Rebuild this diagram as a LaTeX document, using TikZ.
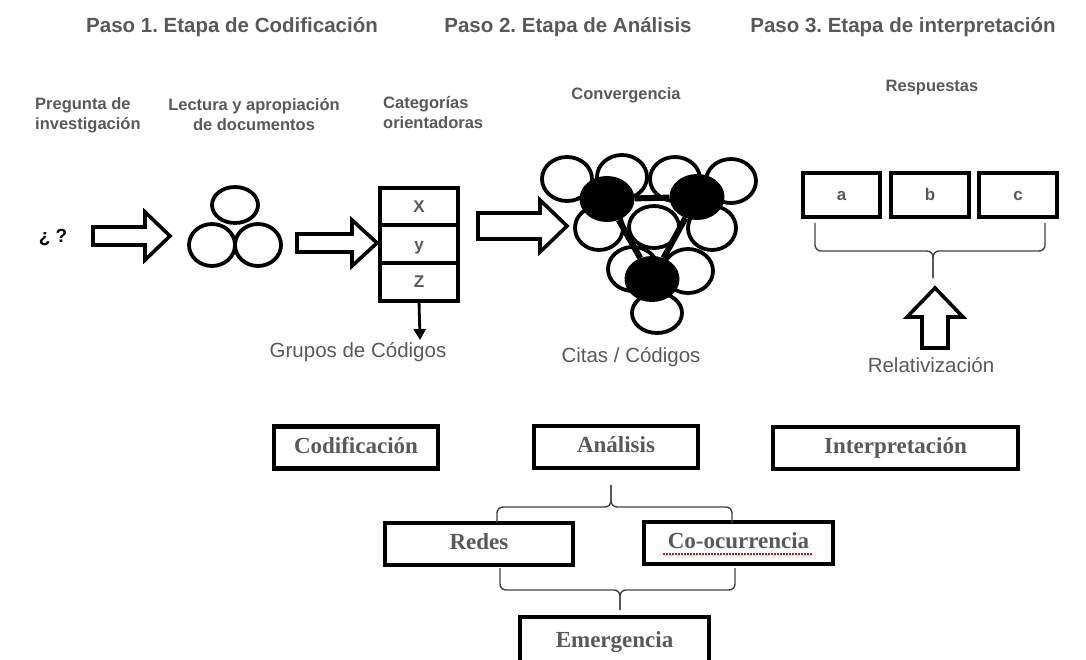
\documentclass[tikz,border=0pt]{standalone}
\usepackage{fontspec}
\setmainfont{Liberation Serif}
\setsansfont{Liberation Sans}
\usepackage{tikz}
\usetikzlibrary{positioning, arrows.meta, shapes.geometric}

\definecolor{labelgray}{HTML}{595959}
\definecolor{bracegray}{HTML}{404040}

\tikzset{
  title/.style={font=\sffamily\bfseries\fontsize{20.5}{24}\selectfont, text=labelgray},
  sublabel/.style={font=\sffamily\bfseries\fontsize{16.5}{20}\selectfont, text=labelgray, inner sep=0pt},
  caption/.style={font=\sffamily\fontsize{20.5}{24}\selectfont, text=labelgray, inner sep=0pt},
  cell/.style={draw, line width=4pt, outer sep=0pt, minimum width=78pt, minimum height=37.5pt, inner sep=0pt, text height=12pt, text depth=0pt, font=\sffamily\bfseries\fontsize{17}{20}\selectfont, text=labelgray},
  answer/.style={draw, line width=4.5pt, minimum width=78pt, minimum height=44pt, inner sep=0pt, text height=12pt, text depth=0pt, font=\sffamily\bfseries\fontsize{17}{20}\selectfont, text=labelgray},
  stagebox/.style={draw, line width=4.5pt, minimum height=42pt, inner sep=0pt, text height=15pt, text depth=4pt, font=\rmfamily\bfseries\fontsize{23}{26}\selectfont, text=labelgray},
  hub/.style={ellipse, fill=black, minimum width=55pt, minimum height=46pt, inner sep=0pt},
  bracket/.style={draw=bracegray, line width=1.4pt, rounded corners=6pt},
  hollow/.style={draw, line width=3.6pt, fill=white},
  ring/.style={line width=3.8pt},
}

\begin{document}
\frenchspacing
\begin{tikzpicture}[x=1pt, y=-1pt]

\useasboundingbox (0,0) rectangle (1086,660);

% titles
\node[title] (paso1) at (232,27) {Paso 1. Etapa de Codificación};
\node[title] (paso2) at (568,27) {Paso 2. Etapa de Análisis};
\node[title] (paso3) at (903,27) {Paso 3. Etapa de interpretación};

\node[sublabel, anchor=west, align=left] (preg) at (35,115) {Pregunta de\\investigación};
\node[sublabel, align=center] (lect) at (254,115) {Lectura y apropiación\\de documentos};
\node[sublabel, anchor=west, align=left] (cats) at (383,112.5) {Categorías\\orientadoras};
\node[sublabel] (conv) at (626,95) {Convergencia};
\node[sublabel] (resp) at (932,88) {Respuestas};

% paso 1
\node[sublabel, text=black, font=\sffamily\bfseries\fontsize{19}{22}\selectfont] (quest) at (53,237) {¿ ?};
\draw[hollow] (93,227) -- (145,227) -- (145,212) -- (170,236) -- (145,260) -- (145,245) -- (93,245) -- cycle;

\draw[ring] (235,205) ellipse [x radius=23pt, y radius=18pt];
\draw[ring] (212,245) ellipse [x radius=23pt, y radius=21pt];
\draw[ring] (258,245) ellipse [x radius=23pt, y radius=21pt];

\draw[hollow] (297,234) -- (352,234) -- (352,220) -- (377,243) -- (352,266) -- (352,252) -- (297,252) -- cycle;

\node[cell] (catx) at (419,206.75) {X};
\node[cell, below=0pt of catx] (caty) {y};
\node[cell, below=0pt of caty] (catz) {Z};
\coordinate (grp) at (420,340);
\draw[line width=2.8pt, -{Triangle[width=12pt, length=11pt]}] (catz.south) -- (grp);
\node[caption] (grupos) at (358,352) {Grupos de Códigos};

% paso 2
\draw[hollow] (478,213) -- (540,213) -- (540,200) -- (567,226) -- (540,252) -- (540,239) -- (478,239) -- cycle;

\draw[ring] (567,179) ellipse [x radius=25pt, y radius=22pt];
\draw[ring] (622,177) ellipse [x radius=25pt, y radius=22pt];
\draw[ring] (675,179) ellipse [x radius=25pt, y radius=22pt];
\draw[ring] (731,181) ellipse [x radius=25pt, y radius=22pt];
\draw[ring] (599,228) ellipse [x radius=24pt, y radius=22pt];
\draw[ring] (654,227) ellipse [x radius=25pt, y radius=21pt];
\draw[ring] (712,228) ellipse [x radius=24pt, y radius=22pt];
\draw[ring] (633,269) ellipse [x radius=25pt, y radius=22pt];
\draw[ring] (688,271) ellipse [x radius=25pt, y radius=22pt];
\draw[ring] (657,313) ellipse [x radius=25pt, y radius=20pt];

\node[hub] (hub1) at (607,199) {};
\node[hub] (hub2) at (697,197) {};
\node[hub] (hub3) at (652,279) {};
\draw[line width=6pt] (hub1) -- (hub2) (hub2) -- (hub3) (hub3) -- (hub1);

\node[caption] (citas) at (631,357) {Citas / Códigos};

% paso 3
\node[answer, minimum width=77pt] (ansa) at (841.5,195) {a};
\node[answer] (ansb) at (930,195) {b};
\node[answer] (ansc) at (1018,195) {c};

\coordinate (ra) at (815,223);
\coordinate (rc) at (1045,223);
\coordinate (rmid) at (933,251);
\coordinate (rtip) at (933,278);
\draw[bracket] (ra) |- (rmid) -- (rtip);
\draw[bracket] (rc) |- (rmid) -- (rtip);

\draw[hollow] (922,348) -- (922,317) -- (907,317) -- (935,288) -- (963,317) -- (948,317) -- (948,348) -- cycle;
\node[caption] (relat) at (931,365) {Relativización};

% etapas
\node[stagebox, minimum width=164pt] (cod) at (356,447.5) {Codificación};
\node[stagebox, minimum width=164pt] (ana) at (616,447) {Análisis};
\node[stagebox, minimum width=245pt] (inter) at (895.5,448) {Interpretación};
\node[stagebox, minimum width=188pt] (redes) at (479,544) {Redes};
\node[stagebox, minimum width=189pt] (cooc) at (738.5,543) {Co-ocurrencia};
\node[stagebox, minimum width=189pt, minimum height=50pt] (emer) at (614.5,642) {Emergencia};

\draw[red, line width=1.5pt, dash pattern=on 1.5pt off 1.5pt] (663,554) -- (812,554);

\coordinate (bl) at (497,523);
\coordinate (br) at (732,523);
\coordinate (bmid) at (611,507);
\coordinate (btip) at (611,485);
\draw[bracket] (bl) |- (bmid) -- (btip);
\draw[bracket] (br) |- (bmid) -- (btip);

\coordinate (el) at (500,568);
\coordinate (er) at (735,568);
\coordinate (emid) at (620,590);
\coordinate (etip) at (620,610);
\draw[bracket] (el) |- (emid) -- (etip);
\draw[bracket] (er) |- (emid) -- (etip);

\end{tikzpicture}
\end{document}
